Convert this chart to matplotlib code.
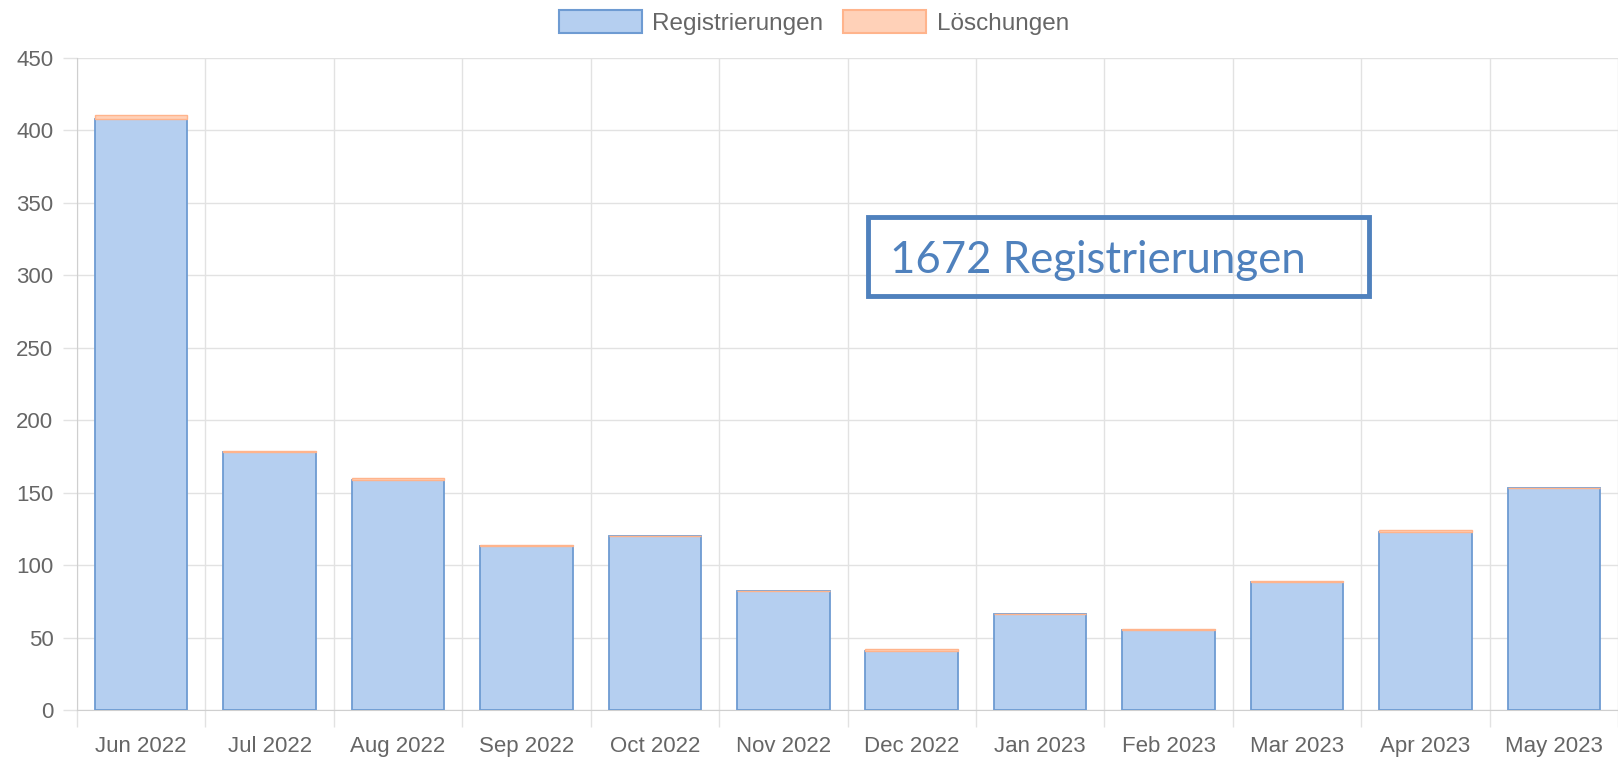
import matplotlib.pyplot as plt
from matplotlib.patches import Patch, Rectangle
import numpy as np

plt.rcParams['font.family'] = ['Liberation Sans', 'DejaVu Sans']

months = ['Jun 2022', 'Jul 2022', 'Aug 2022', 'Sep 2022', 'Oct 2022', 'Nov 2022',
          'Dec 2022', 'Jan 2023', 'Feb 2023', 'Mar 2023', 'Apr 2023', 'May 2023']
registrierungen = [408, 178, 159, 113, 120, 82, 41, 66, 55, 88, 123, 153]
loeschungen = [3, 1, 1, 1, 0, 0, 1, 0, 1, 1, 1, 0]
total_label = '1672 Registrierungen'

blue_fill = '#b5cff0'
blue_edge = '#6e9bd2'
orange_fill = '#ffd1b8'
orange_edge = '#ffb48c'
text_gray = '#666666'
grid_gray = '#e2e2e2'

fig = plt.figure(figsize=(16.18, 7.61), dpi=100)
ax = fig.add_axes([77 / 1618, 51 / 761, 1 - 77 / 1618, 652 / 761])

x = np.arange(len(months))
ax.bar(x, registrierungen, 0.72, color=blue_fill, edgecolor=blue_edge, linewidth=1.3, zorder=3)
ax.bar(x, loeschungen, 0.72, bottom=registrierungen, color=orange_fill,
       edgecolor=orange_edge, linewidth=1.0, zorder=3)

ax.set_xlim(-0.5, len(months) - 0.5)
ax.set_ylim(0, 450)
ax.set_yticks(np.arange(0, 451, 50))
ax.set_xticks(x)
ax.set_xticklabels(months)
ax.set_xticks(np.arange(-0.5, len(months), 1), minor=True)

ax.tick_params(axis='x', which='major', length=0, pad=19, labelsize=16, labelcolor=text_gray)
ax.tick_params(axis='x', which='minor', length=12, color=grid_gray, width=1)
ax.tick_params(axis='y', length=10, color=grid_gray, width=1, pad=7, labelsize=16, labelcolor=text_gray)

ax.grid(axis='y', color=grid_gray, linewidth=1, zorder=0)
ax.grid(axis='x', which='minor', color=grid_gray, linewidth=1, zorder=0)
ax.grid(axis='x', which='major', visible=False)

for side in ['top', 'right']:
    ax.spines[side].set_visible(False)
ax.spines['left'].set_color('#cfcfcf')
ax.spines['bottom'].set_color('#cfcfcf')

handles = [Patch(facecolor=blue_fill, edgecolor=blue_edge, linewidth=1.5, label='Registrierungen'),
           Patch(facecolor=orange_fill, edgecolor=orange_edge, linewidth=1.5, label='Löschungen')]
leg = fig.legend(handles=handles, loc='upper center', bbox_to_anchor=(0.503, 1.008), ncol=2,
                 frameon=False, fontsize=17.5, handlelength=3.4, handleheight=1.1,
                 handletextpad=0.45, columnspacing=0.8, borderaxespad=0.25)
for t in leg.get_texts():
    t.set_color(text_gray)

ax.add_patch(Rectangle((0.5133, 0.635), 0.3251, 0.1211, transform=ax.transAxes,
                       facecolor='none', edgecolor='#4f81bd', linewidth=3.5, zorder=5))
ax.text(0.5273, 0.6695, total_label, transform=ax.transAxes, fontsize=31.5,
        family=['Lato', 'DejaVu Sans'], color='#4f81bd', va='baseline', ha='left', zorder=5)

fig.savefig('out.png', dpi=100)
